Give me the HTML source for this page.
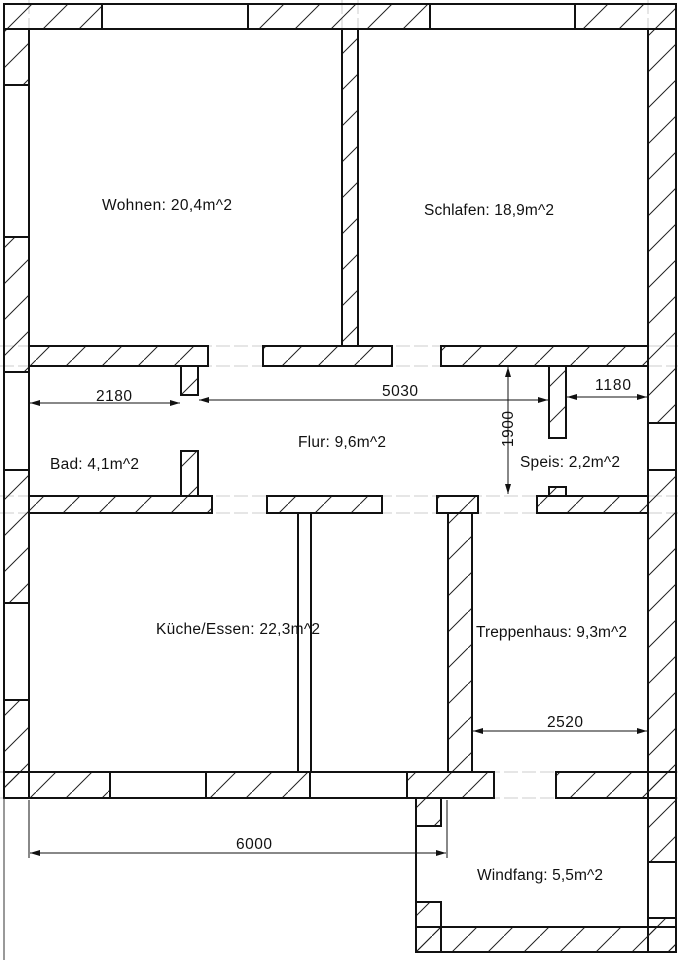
<!DOCTYPE html>
<html><head><meta charset="utf-8"><style>
html,body{margin:0;padding:0;background:#fff;}
svg{display:block}
text{font-family:"Liberation Sans",sans-serif;font-size:15.5px;fill:#111}
</style></head><body>
<svg width="678" height="960" viewBox="0 0 678 960" xmlns="http://www.w3.org/2000/svg">
<defs>
<pattern id="h" patternUnits="userSpaceOnUse" width="36" height="36">
<line x1="-4" y1="40" x2="40" y2="-4" stroke="#222" stroke-width="1"/>
</pattern>
<marker id="a" viewBox="0 0 10 6" refX="10" refY="3" markerWidth="10" markerHeight="6" orient="auto-start-reverse"><path d="M0,0 L10,3 L0,6 z" fill="#111"/></marker>
</defs>
<g stroke="#ccc" stroke-width="1" stroke-dasharray="14 4">
<line x1="0" y1="346" x2="678" y2="346"/><line x1="0" y1="366" x2="678" y2="366"/>
<line x1="0" y1="496" x2="678" y2="496"/><line x1="0" y1="513" x2="678" y2="513"/>
<line x1="0" y1="772" x2="678" y2="772"/><line x1="0" y1="798" x2="678" y2="798"/>
<line x1="29" y1="0" x2="29" y2="30"/><line x1="342" y1="0" x2="342" y2="30"/><line x1="358" y1="0" x2="358" y2="30"/><line x1="648" y1="0" x2="648" y2="30"/>
</g>
<g fill="url(#h)" stroke="#111" stroke-width="2">
<rect x="4" y="4" width="98" height="25"/>
<rect x="248" y="4" width="182" height="25"/>
<rect x="575" y="4" width="101" height="25"/>
<rect x="4" y="29" width="25" height="56"/>
<rect x="4" y="237" width="25" height="135"/>
<rect x="4" y="470" width="25" height="133"/>
<rect x="4" y="700" width="25" height="98"/>
<rect x="648" y="29" width="28" height="394"/>
<rect x="648" y="470" width="28" height="392"/>
<rect x="648" y="918" width="28" height="34"/>
<rect x="342" y="29" width="16" height="317"/>
<rect x="29" y="346" width="179" height="20"/>
<rect x="263" y="346" width="129" height="20"/>
<rect x="441" y="346" width="207" height="20"/>
<rect x="181" y="366" width="17" height="29"/>
<rect x="549" y="366" width="17" height="72"/>
<rect x="29" y="496" width="183" height="17"/>
<rect x="181" y="451" width="17" height="45"/>
<rect x="267" y="496" width="115" height="17"/>
<rect x="437" y="496" width="41" height="17"/>
<rect x="448" y="513" width="24" height="259"/>
<rect x="537" y="496" width="111" height="17"/>
<rect x="549" y="487" width="17" height="9"/>
<rect x="4" y="772" width="106" height="26"/>
<rect x="206" y="772" width="104" height="26"/>
<rect x="407" y="772" width="87" height="26"/>
<rect x="556" y="772" width="120" height="26"/>
<rect x="416" y="798" width="25" height="28"/>
<rect x="416" y="902" width="25" height="50"/>
<rect x="416" y="927" width="260" height="25"/>
</g>
<g fill="#fff" stroke="#111" stroke-width="2">
<rect x="102" y="4" width="146" height="25"/>
<rect x="430" y="4" width="145" height="25"/>
<rect x="4" y="85" width="25" height="152"/>
<rect x="4" y="372" width="25" height="98"/>
<rect x="4" y="603" width="25" height="97"/>
<rect x="648" y="423" width="28" height="47"/>
<rect x="648" y="862" width="28" height="56"/>
<rect x="110" y="772" width="96" height="26"/>
<rect x="310" y="772" width="97" height="26"/>
</g>
<g stroke="#111" stroke-width="2" fill="none">
<line x1="298" y1="513" x2="298" y2="772"/><line x1="311" y1="513" x2="311" y2="772"/>
<line x1="416" y1="826" x2="416" y2="902"/>
</g>
<line x1="4" y1="798" x2="4" y2="960" stroke="#333" stroke-width="1"/>
<g stroke="#111" stroke-width="1" fill="none">
<line x1="30" y1="403" x2="180" y2="403" marker-start="url(#a)" marker-end="url(#a)"/>
<line x1="199" y1="400" x2="548" y2="400" marker-start="url(#a)" marker-end="url(#a)"/>
<line x1="567" y1="397" x2="647" y2="397" marker-start="url(#a)" marker-end="url(#a)"/>
<line x1="508" y1="367" x2="508" y2="494" marker-start="url(#a)" marker-end="url(#a)"/>
<line x1="473" y1="731" x2="647" y2="731" marker-start="url(#a)" marker-end="url(#a)"/>
<line x1="30" y1="853" x2="446" y2="853" marker-start="url(#a)" marker-end="url(#a)"/>
<line x1="29" y1="800" x2="29" y2="858"/><line x1="447" y1="800" x2="447" y2="858"/>
</g>
<text x="102" y="210" textLength="130">Wohnen: 20,4m^2</text>
<text x="424" y="215" textLength="130">Schlafen: 18,9m^2</text>
<text x="96" y="401" textLength="36">2180</text>
<text x="382" y="396" textLength="36">5030</text>
<text x="595" y="390" textLength="36">1180</text>
<text x="0" y="0" transform="translate(513,447) rotate(-90)" textLength="36">1900</text>
<text x="298" y="447" textLength="88">Flur: 9,6m^2</text>
<text x="50" y="469" textLength="89">Bad: 4,1m^2</text>
<text x="520" y="467" textLength="100">Speis: 2,2m^2</text>
<text x="156" y="634" textLength="164">Küche/Essen: 22,3m^2</text>
<text x="476" y="637" textLength="151">Treppenhaus: 9,3m^2</text>
<text x="547" y="727" textLength="36">2520</text>
<text x="236" y="849" textLength="36">6000</text>
<text x="477" y="880" textLength="126">Windfang: 5,5m^2</text>
</svg>
</body></html>
